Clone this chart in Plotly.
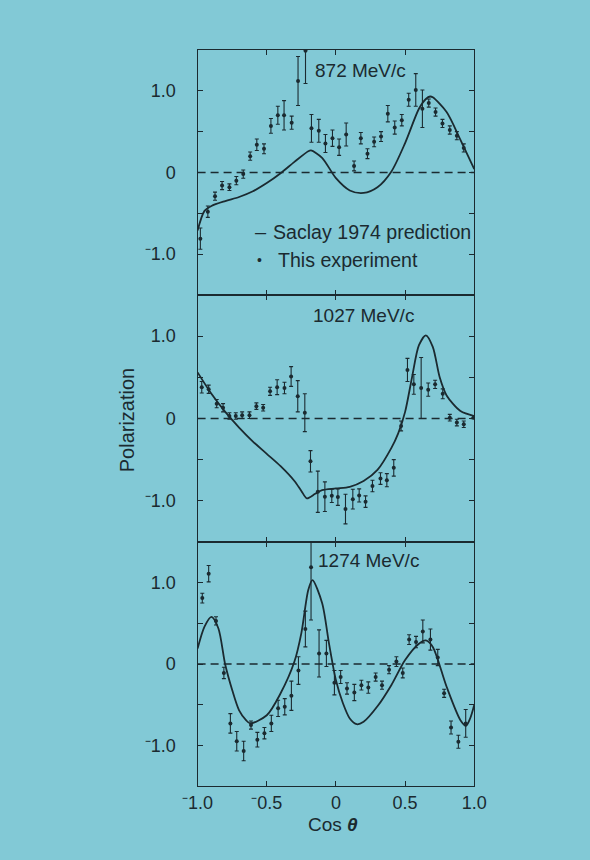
import plotly.graph_objects as go

# ---- measured polarization, 872 MeV/c ----
cos_872 = [-0.98, -0.926, -0.874, -0.823, -0.77, -0.72, -0.67, -0.62, -0.572, -0.52,
           -0.47, -0.42, -0.375, -0.32, -0.274, -0.22, -0.177, -0.124, -0.076, -0.025,
           0.023, 0.074, 0.131, 0.18, 0.228, 0.276, 0.326, 0.375, 0.425, 0.476,
           0.526, 0.577, 0.625, 0.671, 0.72, 0.77, 0.823, 0.874, 0.924]
pol_872 = [-0.81, -0.48, -0.29, -0.16, -0.18, -0.10, -0.02, 0.20, 0.34, 0.29,
           0.57, 0.70, 0.70, 0.61, 1.12, 1.49, 0.54, 0.51, 0.355, 0.42,
           0.31, 0.465, 0.08, 0.42, 0.23, 0.375, 0.44, 0.72, 0.55, 0.64,
           0.89, 1.01, 0.78, 0.85, 0.74, 0.60, 0.52, 0.45, 0.30]
err_872 = [0.13, 0.07, 0.05, 0.05, 0.04, 0.05, 0.05, 0.05, 0.07, 0.06,
           0.09, 0.11, 0.18, 0.08, 0.30, 0.40, 0.17, 0.14, 0.11, 0.10,
           0.10, 0.14, 0.06, 0.07, 0.06, 0.06, 0.06, 0.10, 0.08, 0.07,
           0.08, 0.20, 0.23, 0.05, 0.05, 0.05, 0.05, 0.05, 0.05]

# ---- Saclay 1974 prediction, 872 MeV/c ----
theory_cos_872 = [-1.0, -0.95, -0.9, -0.8, -0.7, -0.6, -0.5, -0.4, -0.3, -0.2, -0.18,
                  -0.1, 0.0, 0.1, 0.2, 0.3, 0.4, 0.5, 0.6, 0.65, 0.68, 0.7, 0.8, 0.9, 1.0]
theory_pol_872 = [-0.71, -0.47, -0.41, -0.35, -0.30, -0.23, -0.13, -0.01, 0.13, 0.26, 0.27,
                  0.18, -0.07, -0.22, -0.25, -0.18, 0.01, 0.36, 0.78, 0.90, 0.93, 0.92, 0.74, 0.40, 0.04]

# ---- measured polarization, 1027 MeV/c ----
cos_1027 = [-0.97, -0.92, -0.862, -0.816, -0.77, -0.724, -0.678, -0.625, -0.575, -0.526,
            -0.476, -0.425, -0.372, -0.324, -0.276, -0.225, -0.184, -0.131, -0.08, -0.03,
            0.014, 0.069, 0.122, 0.168, 0.214, 0.264, 0.322, 0.368, 0.418, 0.471,
            0.517, 0.563, 0.616, 0.667, 0.717, 0.772, 0.823, 0.874, 0.924, 0.995]
pol_1027 = [0.38, 0.355, 0.18, 0.13, 0.03, 0.03, 0.04, 0.04, 0.15, 0.13,
            0.33, 0.38, 0.37, 0.51, 0.27, 0.07, -0.52, -0.89, -0.95, -0.94,
            -0.955, -1.10, -0.98, -0.935, -1.01, -0.82, -0.73, -0.75, -0.60, -0.09,
            0.59, 0.415, 0.37, 0.35, 0.415, 0.30, 0.01, -0.05, -0.07, 0.01]
err_1027 = [0.07, 0.05, 0.05, 0.05, 0.04, 0.04, 0.04, 0.04, 0.04, 0.04,
            0.05, 0.09, 0.07, 0.12, 0.19, 0.23, 0.13, 0.25, 0.18, 0.08,
            0.10, 0.18, 0.12, 0.08, 0.07, 0.07, 0.07, 0.08, 0.10, 0.06,
            0.14, 0.12, 0.37, 0.08, 0.05, 0.06, 0.04, 0.04, 0.04, 0.0]

# ---- Saclay 1974 prediction, 1027 MeV/c ----
theory_cos_1027 = [-1.0, -0.9, -0.8, -0.7, -0.6, -0.5, -0.4, -0.3, -0.25, -0.21, -0.15,
                   -0.1, 0.0, 0.1, 0.2, 0.3, 0.4, 0.45, 0.5, 0.55, 0.6, 0.65, 0.7, 0.75,
                   0.8, 0.9, 1.0]
theory_pol_1027 = [0.56, 0.30, 0.08, -0.11, -0.28, -0.43, -0.58, -0.76, -0.88, -0.97, -0.915,
                   -0.87, -0.85, -0.83, -0.76, -0.625, -0.36, -0.18, 0.08, 0.50, 0.89, 1.01, 0.87, 0.50,
                   0.28, 0.09, 0.03]

# ---- measured polarization, 1274 MeV/c ----
cos_1274 = [-0.966, -0.92, -0.867, -0.81, -0.763, -0.717, -0.667, -0.614, -0.568, -0.517,
            -0.467, -0.418, -0.37, -0.322, -0.271, -0.221, -0.18, -0.122, -0.069, -0.011,
            0.034, 0.08, 0.133, 0.184, 0.234, 0.287, 0.333, 0.384, 0.437, 0.483,
            0.529, 0.579, 0.628, 0.683, 0.736, 0.782, 0.832, 0.885, 0.938]
pol_1274 = [0.81, 1.11, 0.53, -0.11, -0.73, -0.95, -1.07, -0.75, -0.93, -0.85,
            -0.73, -0.545, -0.525, -0.39, -0.08, 0.43, 1.19, 0.13, 0.13, -0.23,
            -0.16, -0.30, -0.35, -0.26, -0.29, -0.16, -0.26, -0.07, 0.03, -0.11,
            0.30, 0.27, 0.40, 0.30, 0.08, -0.36, -0.78, -0.955, -0.73]
err_1274 = [0.06, 0.10, 0.05, 0.07, 0.12, 0.12, 0.12, 0.05, 0.09, 0.07,
            0.10, 0.10, 0.10, 0.18, 0.17, 0.22, 0.65, 0.29, 0.16, 0.15,
            0.08, 0.07, 0.10, 0.06, 0.07, 0.05, 0.05, 0.05, 0.06, 0.06,
            0.06, 0.07, 0.14, 0.13, 0.10, 0.05, 0.08, 0.08, 0.17]

# ---- Saclay 1974 prediction, 1274 MeV/c ----
theory_cos_1274 = [-1.0, -0.95, -0.9, -0.85, -0.8, -0.75, -0.7, -0.65, -0.62, -0.5, -0.4,
                   -0.3, -0.25, -0.2, -0.17, -0.1, -0.05, 0.0, 0.05, 0.1, 0.15, 0.2, 0.3,
                   0.4, 0.5, 0.6, 0.65, 0.7, 0.8, 0.9, 0.94, 0.97, 1.0]
theory_pol_1274 = [0.19, 0.46, 0.58, 0.44, -0.01, -0.32, -0.57, -0.69, -0.73, -0.63, -0.36,
                   0.03, 0.38, 0.91, 1.03, 0.75, 0.25, -0.20, -0.48, -0.67, -0.74, -0.71, -0.52,
                   -0.26, 0.05, 0.25, 0.29, 0.21, -0.28, -0.69, -0.76, -0.67, -0.50]

panel_labels = ["872 MeV/c", "1027 MeV/c", "1274 MeV/c"]
y_tickvals = [-1.0, -0.5, 0.0, 0.5, 1.0]
y_ticktext = ["\u207b1.0", "", "0", "", "1.0"]
x_tickvals = [-1.0, -0.5, 0.0, 0.5, 1.0]
x_ticktext = ["\u207b1.0", "\u207b0.5", "0", "0.5", "1.0"]

INK = "#1b2a30"
BG = "#82c9d6"
FONT = "Liberation Sans, Arial, sans-serif"

panels = [
    (cos_872, pol_872, err_872, theory_cos_872, theory_pol_872),
    (cos_1027, pol_1027, err_1027, theory_cos_1027, theory_pol_1027),
    (cos_1274, pol_1274, err_1274, theory_cos_1274, theory_pol_1274),
]

# vertical extent of each panel (paper fractions, top to bottom)
domains = [(0.6570, 0.9419), (0.3698, 0.6570), (0.0860, 0.3698)]
x_domain = [0.3237, 0.8169]

fig = go.Figure()
for i, (cx, py, pe, tx, ty) in enumerate(panels):
    n = "" if i == 0 else str(i + 1)
    fig.add_trace(go.Scatter(
        x=tx, y=ty, mode="lines", line=dict(color=INK, width=1.8, shape="spline", smoothing=0.8),
        xaxis="x" + n, yaxis="y" + n, showlegend=False, hoverinfo="skip"))
    fig.add_trace(go.Scatter(
        x=cx, y=py, mode="markers",
        marker=dict(color=INK, size=4),
        error_y=dict(type="data", array=pe, color=INK, thickness=1.1, width=2),
        xaxis="x" + n, yaxis="y" + n, showlegend=False))
    # dashed zero reference line
    fig.add_shape(type="line", xref="x" + n + " domain", yref="y" + n,
                  x0=0, x1=1, y0=0, y1=0,
                  line=dict(color=INK, width=1.3, dash="8px,5px"))

    axis_common = dict(showline=True, linecolor=INK, linewidth=1.3, mirror="ticks",
                       ticks="inside", ticklen=5, tickwidth=1.2, tickcolor=INK,
                       showgrid=False, zeroline=False)
    fig.layout["xaxis" + n] = dict(
        axis_common, domain=x_domain, range=[-1, 1], anchor="y" + n,
        tickvals=x_tickvals, ticktext=x_ticktext, showticklabels=(i == 2),
        ticklabelstandoff=0,
        tickfont=dict(family=FONT, size=18, color=INK))
    fig.layout["yaxis" + n] = dict(
        axis_common, domain=list(domains[i]), range=[-1.5, 1.5], anchor="x" + n,
        tickvals=y_tickvals, ticktext=y_ticktext, ticklabelstandoff=17,
        tickfont=dict(family=FONT, size=18, color=INK))

annotations = []
label_pos = [(0.5288, 0.9186), (0.5254, 0.6337), (0.5339, 0.3477)]
for (ax, ay), txt in zip(label_pos, panel_labels):
    annotations.append(dict(x=ax, y=ay, xref="paper", yref="paper", text=txt,
                            showarrow=False, xanchor="left", yanchor="middle",
                            font=dict(family=FONT, size=19, color=INK)))

# key for the top panel
annotations += [
    dict(x=0.4373, y=0.7302, xref="paper", yref="paper", text="\u2013", showarrow=False,
         xanchor="center", yanchor="middle", font=dict(family=FONT, size=20, color=INK)),
    dict(x=0.4554, y=0.7302, xref="paper", yref="paper", text="Saclay 1974 prediction",
         showarrow=False, xanchor="left", yanchor="middle",
         font=dict(family=FONT, size=19.6, color=INK)),
    dict(x=0.4334, y=0.6977, xref="paper", yref="paper", text="\u2022", showarrow=False,
         xanchor="center", yanchor="middle", font=dict(family=FONT, size=14, color=INK)),
    dict(x=0.4627, y=0.6977, xref="paper", yref="paper", text="This experiment",
         showarrow=False, xanchor="left", yanchor="middle",
         font=dict(family=FONT, size=19.6, color=INK)),
    dict(x=0.1983, y=0.5116, xref="paper", yref="paper", text="Polarization",
         showarrow=False, textangle=-90, xanchor="center", yanchor="middle",
         font=dict(family=FONT, size=20, color=INK)),
    dict(x=0.5644, y=0.0407, xref="paper", yref="paper", text="Cos <b><i>\u03b8</i></b>",
         showarrow=False, xanchor="center", yanchor="middle",
         font=dict(family=FONT, size=19, color=INK)),
]

fig.update_layout(
    width=590, height=860, margin=dict(l=0, r=0, t=0, b=0),
    paper_bgcolor=BG, plot_bgcolor=BG,
    annotations=annotations, showlegend=False,
)

fig.write_html("out.html")
